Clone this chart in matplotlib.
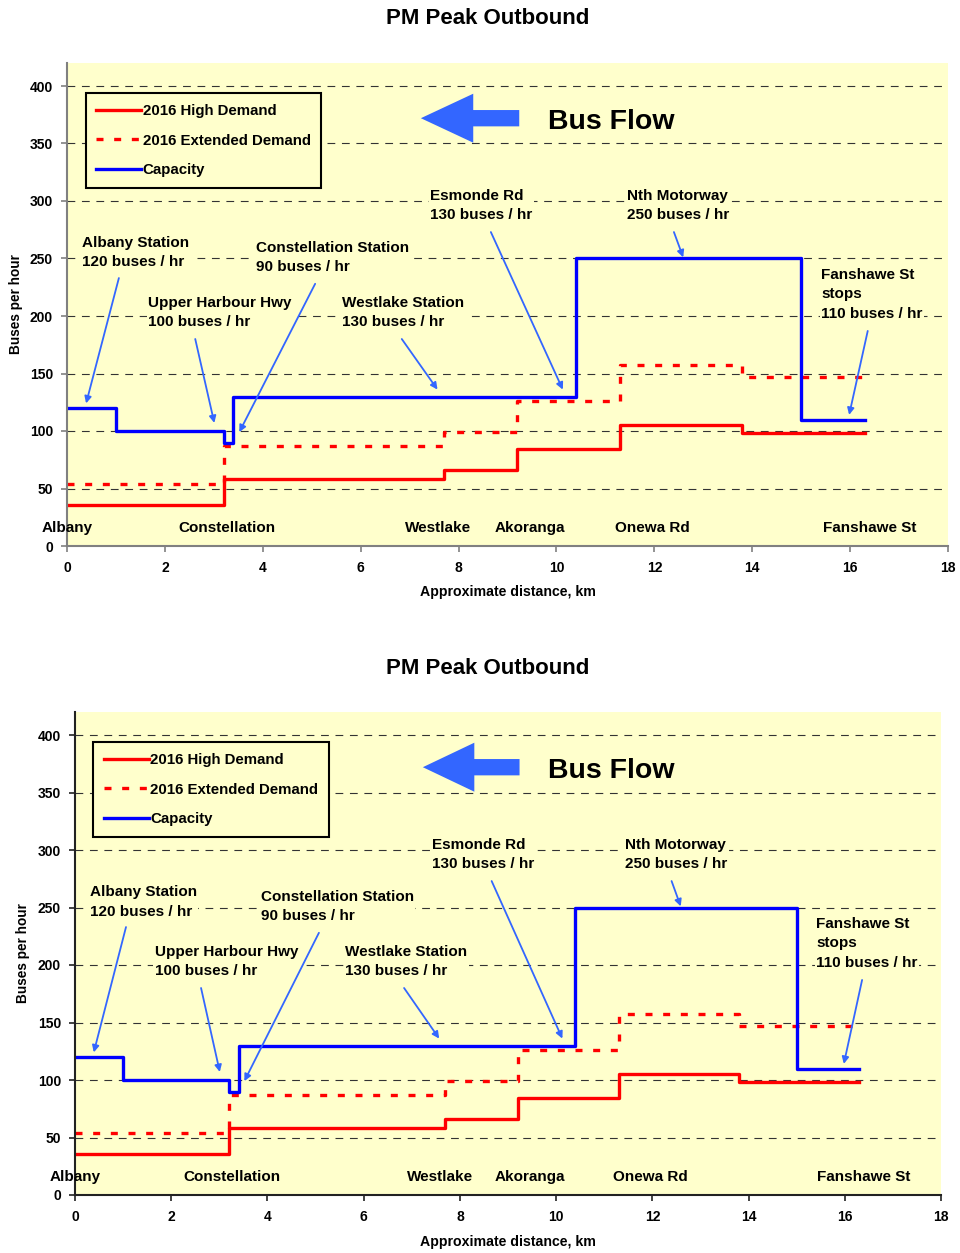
import matplotlib.pyplot as plt
from matplotlib.patches import FancyArrow

plt.rcParams['font.family'] = ['Liberation Sans', 'DejaVu Sans']
plt.rcParams['font.weight'] = 'bold'
plt.rcParams['axes.labelweight'] = 'bold'

# Step breakpoints (km) and the flow on each segment (buses / hr)
demand_km = [0, 3.2, 7.7, 9.2, 11.3, 13.8, 16.3]
high_demand = [36, 58, 66, 84, 105, 98]
extended_demand = [54, 87, 99, 126, 157, 147]

capacity_km = [0, 1.0, 3.2, 3.4, 10.4, 15.0, 16.3]
capacity = [120, 100, 90, 130, 250, 110]

# Stations along the bottom of the chart
stations = ["Albany", "Constellation", "Westlake", "Akoranga", "Onewa Rd", "Fanshawe St"]
station_km = [0, 3.27, 7.58, 9.46, 11.95, 16.4]

# Call-outs: text, text position, arrow tail, arrow head
callouts = [
    ("Albany Station\n120 buses / hr", (0.31, 255), (1.06, 233), (0.39, 124)),
    ("Upper Harbour Hwy\n100 buses / hr", (1.66, 203), (2.62, 180), (3.01, 107)),
    ("Constellation Station\n90 buses / hr", (3.86, 251), (5.07, 228), (3.52, 99)),
    ("Westlake Station\n130 buses / hr", (5.62, 203), (6.84, 180), (7.57, 136)),
    ("Esmonde Rd\n130 buses / hr", (7.42, 296), (8.66, 273), (10.13, 136)),
    ("Nth Motorway\n250 buses / hr", (11.44, 296), (12.40, 273), (12.59, 251)),
    ("Fanshawe St\nstops\n110 buses / hr", (15.41, 219), (16.36, 187), (15.98, 114)),
]

BG = '#FFFFCC'
ARROW = '#3366FF'


def draw_panel(ax, spine_color):
    ax.set_facecolor(BG)
    ax.set_xlim(0, 18)
    ax.set_ylim(0, 420)
    ax.set_xticks(range(0, 19, 2))
    ax.set_yticks(range(0, 401, 50))
    ax.yaxis.grid(True, color='#333333', lw=0.8, linestyle=(0, (7, 6)))
    ax.set_axisbelow(True)
    for s in ['top', 'right']:
        ax.spines[s].set_visible(False)
    for s in ['left', 'bottom']:
        ax.spines[s].set_color(spine_color)
        ax.spines[s].set_linewidth(1.5)
    ax.tick_params(direction='out', length=4, width=1.2, color=spine_color,
                   labelsize=10, pad=6)
    ax.tick_params(axis='x', pad=7)

    ax.step(demand_km, high_demand + high_demand[-1:], where='post',
            color='red', lw=2.4, label='2016 High Demand')
    ax.step(demand_km, extended_demand + extended_demand[-1:], where='post',
            color='red', lw=2.4, linestyle=(0, (2.1, 3.2)),
            label='2016 Extended Demand')
    ax.step(capacity_km, capacity + capacity[-1:], where='post',
            color='blue', lw=2.4, label='Capacity')

    leg = ax.legend(loc='upper left', bbox_to_anchor=(0.021, 0.937),
                    fontsize=10.8, frameon=True, fancybox=False,
                    handlelength=3.0, handletextpad=0.1, labelspacing=1.05,
                    borderpad=0.7, borderaxespad=0, facecolor=BG)
    leg.get_frame().set_edgecolor('black')
    leg.get_frame().set_linewidth(1.5)
    leg.get_frame().set_alpha(1)

    for text, xy, tail, head in callouts:
        ax.text(xy[0], xy[1], text, fontsize=11, ha='left', va='center',
                linespacing=1.5, zorder=3,
                bbox=dict(facecolor=BG, edgecolor='none', pad=1))
        ax.annotate('', xy=head, xytext=tail, zorder=4,
                    arrowprops=dict(arrowstyle='-|>', color=ARROW, lw=1.3,
                                    mutation_scale=10, shrinkA=0, shrinkB=0))

    for name, km in zip(stations, station_km):
        ax.text(km, 16, name, fontsize=11, ha='center', va='center')

    ax.add_patch(FancyArrow(9.24, 372, -2.01, 0, width=14.2, head_width=42.6,
                            head_length=1.07, length_includes_head=True,
                            color=ARROW, lw=0))
    ax.text(9.83, 369, 'Bus Flow', fontsize=20.5, ha='left', va='center')

    ax.set_ylabel('Buses per hour', fontsize=9.8)
    ax.set_xlabel('Approximate distance, km', fontsize=10.2)


fig = plt.figure(figsize=(9.6, 12.53), dpi=100)

top = fig.add_axes([67 / 960, 1 - 546 / 1253, 881 / 960, 483 / 1253])
draw_panel(top, '#808080')
top.yaxis.set_label_coords(-0.050, 0.5)
top.xaxis.set_label_coords(0.5, -0.081)

bottom = fig.add_axes([75 / 960, 1 - 1195 / 1253, 866 / 960, 483 / 1253])
draw_panel(bottom, '#222222')
bottom.yaxis.set_label_coords(-0.052, 0.5)
bottom.xaxis.set_label_coords(0.5, -0.083)

fig.text(0.508, 1 - 19 / 1253, 'PM Peak Outbound', fontsize=16,
         ha='center', va='center')
fig.text(0.508, 1 - 668 / 1253, 'PM Peak Outbound', fontsize=16,
         ha='center', va='center')

fig.savefig('out.png', dpi=100, facecolor='white')
